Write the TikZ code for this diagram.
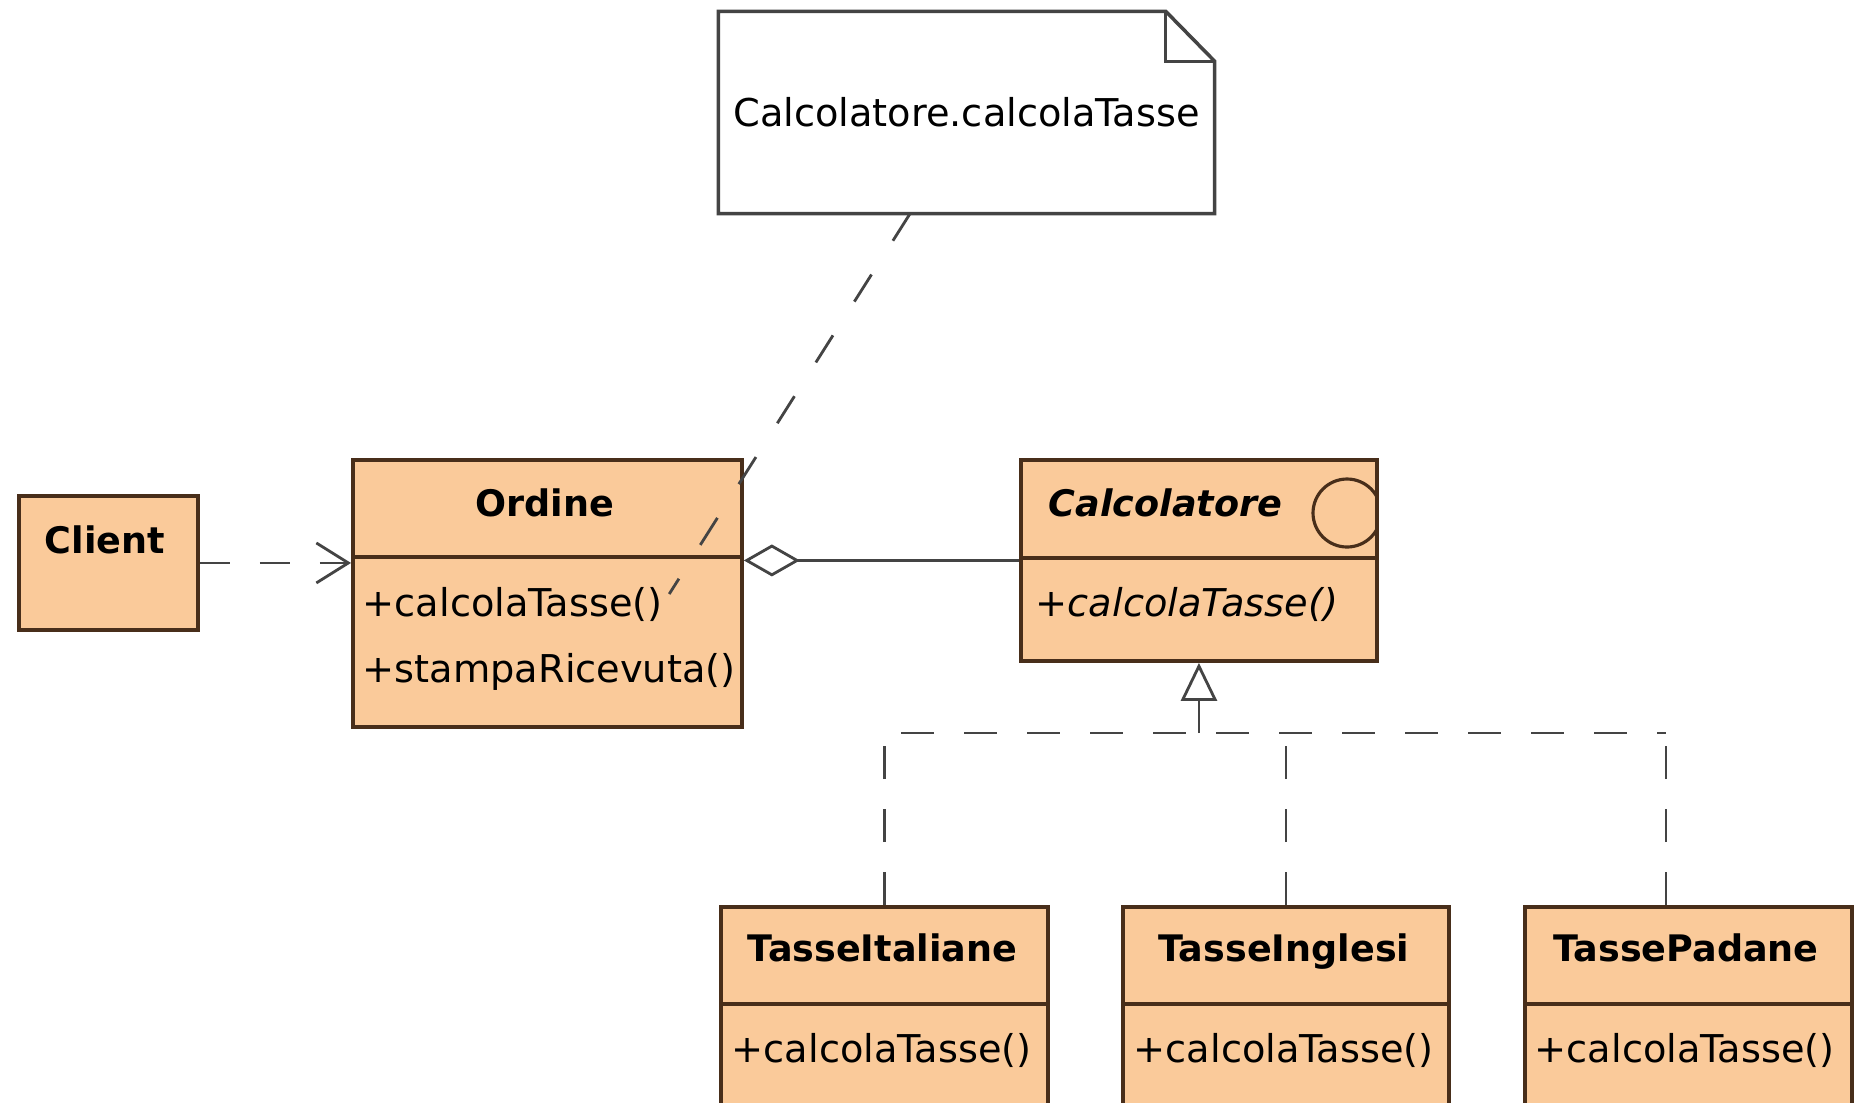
\documentclass[tikz,border=0pt]{standalone}
\usepackage{fontspec}
\setmainfont{DejaVu Sans}
\usetikzlibrary{arrows.meta}
\definecolor{classfill}{RGB}{250,202,154}
\definecolor{classline}{RGB}{72,46,26}
\definecolor{wireline}{RGB}{68,68,68}
\tikzset{
  umlclass/.style={draw=classline, fill=classfill, line width=1.1pt, anchor=north west, inner sep=0pt},
  classname/.style={font=\fontsize{10.4}{12}\selectfont\bfseries, anchor=base, inner sep=0pt},
  member/.style={font=\fontsize{10.9}{12}\selectfont, anchor=west, inner sep=0pt},
  divider/.style={draw=classline, line width=1.1pt},
  notebody/.style={draw=wireline, line width=1pt},
  wire/.style={draw=wireline, line width=0.8pt},
  dashwire/.style={wire, dash pattern=on 0.33cm off 0.3cm},
  notewire/.style={wire, dash pattern=on 0.32cm off 0.4cm},
}
\begin{document}
\begin{tikzpicture}
  \useasboundingbox (0,0) rectangle (18.54,-11.02);
  \clip (0,0) rectangle (18.54,-11.02);
  \fill[white] (0,0) rectangle (18.54,-11.02);

  \node[minimum width=4.95cm, minimum height=2.01cm, inner sep=0pt,
    font=\fontsize{10.9}{12}\selectfont] (note) at (9.665,-1.125) {Calcolatore.calcolaTasse};
  \draw[notebody] (note.north west) -- ([xshift=-0.49cm]note.north east)
    -- ([yshift=-0.5cm]note.north east) -- (note.south east) -- (note.south west) -- cycle;
  \draw[notebody] ([xshift=-0.49cm]note.north east) |- ([yshift=-0.5cm]note.north east);

  \node[umlclass, minimum width=1.79cm, minimum height=1.34cm] (client) at (0.17,-4.94) {};
  \node[umlclass, minimum width=3.89cm, minimum height=2.67cm] (ordine) at (3.51,-4.58) {};
  \node[umlclass, minimum width=3.56cm, minimum height=2.01cm] (calcolatore) at (10.19,-4.58) {};
  \node[umlclass, minimum width=3.27cm, minimum height=2.60cm] (tasseit) at (7.19,-9.05) {};
  \node[umlclass, minimum width=3.26cm, minimum height=2.60cm] (tasseen) at (11.21,-9.05) {};
  \node[umlclass, minimum width=3.27cm, minimum height=2.60cm] (tassepd) at (15.23,-9.05) {};

  \draw[divider] (ordine.west |- 0,-5.57) -- (ordine.east |- 0,-5.57);
  \draw[divider] (calcolatore.west |- 0,-5.58) -- (calcolatore.east |- 0,-5.58);
  \draw[divider] (tasseit.west |- 0,-10.04) -- (tasseit.east |- 0,-10.04);
  \draw[divider] (tasseen.west |- 0,-10.04) -- (tasseen.east |- 0,-10.04);
  \draw[divider] (tassepd.west |- 0,-10.04) -- (tassepd.east |- 0,-10.04);

  \begin{scope}
    \clip (calcolatore.north west) rectangle (calcolatore.south east);
    \draw[classline, line width=0.9pt] (13.47,-5.13) circle (0.34);
  \end{scope}

  \node[classname] (clientname) at (1.05,-5.535) {Client};
  \node[classname] (ordinename) at (5.45,-5.165) {Ordine};
  \node[member] (ordcalc) at (3.62,-6.04) {+calcolaTasse()};
  \node[member] (ordstampa) at (3.62,-6.72) {+stampaRicevuta()};
  \node[classname, font=\fontsize{10.4}{12}\selectfont\bfseries\itshape, anchor=base west] (calcname) at (10.48,-5.165) {Calcolatore};
  \node[member, font=\fontsize{10.9}{12}\selectfont\itshape] (calcmeth) at (10.35,-6.04) {+calcolaTasse()};
  \node[classname] (itname) at (8.825,-9.615) {TasseItaliane};
  \node[member] (itmeth) at (7.31,-10.50) {+calcolaTasse()};
  \node[classname] (enname) at (12.84,-9.615) {TasseInglesi};
  \node[member] (enmeth) at (11.33,-10.50) {+calcolaTasse()};
  \node[classname] (pdname) at (16.86,-9.615) {TassePadane};
  \node[member] (pdmeth) at (15.34,-10.50) {+calcolaTasse()};

  \coordinate (bus) at (0,-7.33);
  \coordinate (pdtop) at (16.66,-9.05);

  \begin{scope}[-]
    \draw[dashwire, dash pattern=on 0.3cm off 0.3cm, -{Straight Barb[length=0.32cm,width=0.4cm]}]
      (client.east) to (client.east -| ordine.west);
    \draw[wire, {Diamond[open,length=0.56cm,width=0.32cm]}-] (ordine.east |- calcolatore.west) to (calcolatore.west);
    \draw[notewire] ([xshift=-0.565cm]note.south) to ([shift={(0.06,0.1)}]ordcalc.east);
    \draw[dashwire] (tasseit.north) |- (bus -| pdtop);
    \draw[dashwire] (pdtop) to (pdtop |- bus);
    \draw[dashwire] (tasseen.north) to (tasseen.north |- bus);
    \draw[dashwire, -{Triangle[open,length=0.38cm,width=0.36cm]}] (calcolatore.south |- bus) to (calcolatore.south);
  \end{scope}
\end{tikzpicture}
\end{document}
